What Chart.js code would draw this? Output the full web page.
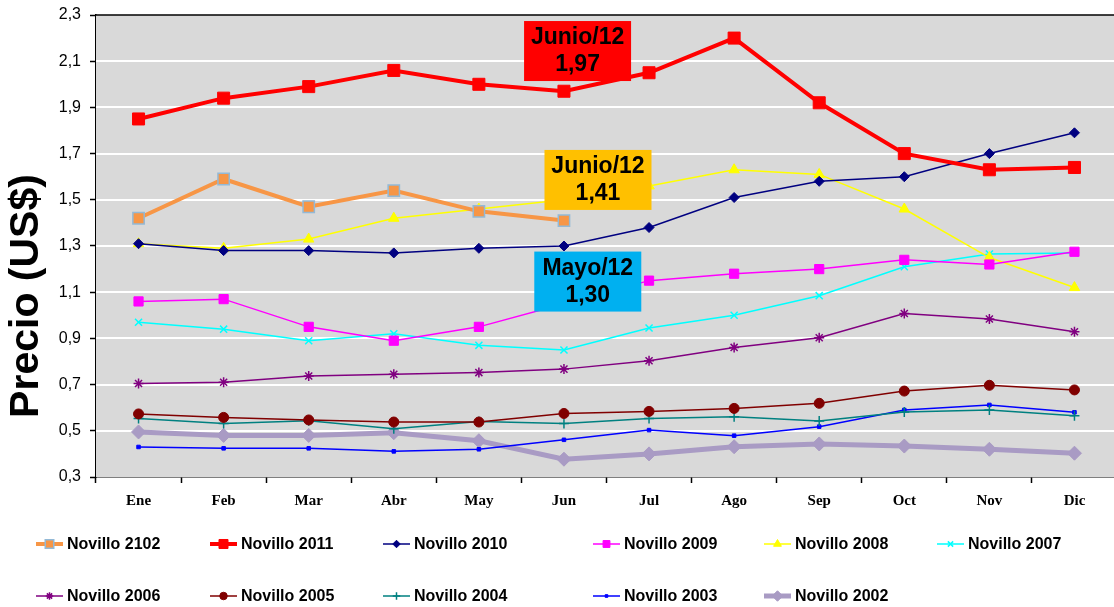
<!DOCTYPE html>
<html>
<head>
<meta charset="utf-8">
<script src="https://cdn.jsdelivr.net/npm/chart.js@4/dist/chart.umd.min.js"></script>
<style>
  html, body { margin: 0; background: #fff; overflow: hidden; }
  #wrap { width: 1117px; height: 607px; position: relative; }
</style>
</head>
<body>
<div id="wrap"><canvas id="chart"></canvas></div>
<script>
const months = ['Ene', 'Feb', 'Mar', 'Abr', 'May', 'Jun', 'Jul', 'Ago', 'Sep', 'Oct', 'Nov', 'Dic'];
const yTicks = [0.3, 0.5, 0.7, 0.9, 1.1, 1.3, 1.5, 1.7, 1.9, 2.1, 2.3];

const nov2102 = [1.42, 1.59, 1.47, 1.54, 1.45, 1.41];
const nov2011 = [1.85, 1.94, 1.99, 2.06, 2.00, 1.97, 2.05, 2.20, 1.92, 1.70, 1.63, 1.64];
const nov2010 = [1.31, 1.28, 1.28, 1.27, 1.29, 1.30, 1.38, 1.51, 1.58, 1.60, 1.70, 1.79];
const nov2009 = [1.06, 1.07, 0.95, 0.89, 0.95, 1.05, 1.15, 1.18, 1.20, 1.24, 1.22, 1.275];
const nov2008 = [1.31, 1.29, 1.33, 1.42, 1.46, 1.50, 1.56, 1.63, 1.61, 1.46, 1.25, 1.12];
const nov2007 = [0.97, 0.94, 0.89, 0.92, 0.87, 0.85, 0.945, 1.00, 1.085, 1.21, 1.265, 1.27];
const nov2006 = [0.705, 0.71, 0.737, 0.745, 0.752, 0.767, 0.803, 0.861, 0.903, 1.008, 0.984, 0.929];
const nov2005 = [0.573, 0.558, 0.547, 0.538, 0.538, 0.575, 0.584, 0.597, 0.619, 0.672, 0.697, 0.677];
const nov2004 = [0.553, 0.532, 0.544, 0.509, 0.54, 0.532, 0.553, 0.561, 0.542, 0.581, 0.59, 0.565];
const nov2003 = [0.43, 0.424, 0.424, 0.411, 0.42, 0.461, 0.503, 0.479, 0.518, 0.59, 0.612, 0.58];
const nov2002 = [0.495, 0.48, 0.48, 0.492, 0.457, 0.377, 0.40, 0.431, 0.443, 0.434, 0.42, 0.403];

// callout boxes: text lines, fill, anchor (category index, value)
const notes = [
  { lines: ['Junio/12', '1,97'], color: '#FF0000', at: 5.16, value: 2.144 },
  { lines: ['Junio/12', '1,41'], color: '#FFC000', at: 5.4, value: 1.586 },
  { lines: ['Mayo/12', '1,30'], color: '#00B0F0', at: 5.28, value: 1.146 },
];

function series(label, data, color, width, style, radius, extra) {
  return Object.assign({
    label, data,
    borderColor: color,
    backgroundColor: color,
    borderWidth: width,
    pointStyle: style,
    pointRadius: radius,
    pointHoverRadius: radius,
    pointBackgroundColor: color,
    pointBorderColor: color,
    pointBorderWidth: 1,
    tension: 0,
  }, extra || {});
}

const datasets = [
  series('Novillo 2102', nov2102, '#F79646', 4, 'rect', 8, { pointBorderColor: '#93B9D6', pointBorderWidth: 1.5 }),
  series('Novillo 2011', nov2011, '#FF0000', 4, 'rect', 8.5),
  series('Novillo 2010', nov2010, '#000080', 1.5, 'rectRot', 5),
  series('Novillo 2009', nov2009, '#FF00FF', 1.5, 'rect', 6.5),
  series('Novillo 2008', nov2008, '#FFFF00', 1.5, 'triangle', 6),
  series('Novillo 2007', nov2007, '#00FFFF', 1.5, 'crossRot', 5, { pointBorderWidth: 1.5 }),
  series('Novillo 2006', nov2006, '#800080', 1.5, 'star', 5, { pointBorderWidth: 1.5 }),
  series('Novillo 2005', nov2005, '#800000', 1.5, 'circle', 5),
  series('Novillo 2004', nov2004, '#008080', 1.5, 'cross', 5, { pointBorderWidth: 1.5 }),
  series('Novillo 2003', nov2003, '#0000FF', 1.5, 'rect', 2.5),
  series('Novillo 2002', nov2002, '#A99BC4', 5, 'rectRot', 7),
];

const decorPlugin = {
  id: 'decor',
  beforeDatasetsDraw(chart) {
    const { ctx, chartArea: a } = chart;
    ctx.save();
    ctx.fillStyle = '#D9D9D9';
    ctx.fillRect(a.left, a.top, a.right - a.left, a.bottom - a.top);
    // white grid lines
    const y = chart.scales.y;
    ctx.strokeStyle = '#FFFFFF';
    ctx.lineWidth = 2;
    yTicks.slice(1, -1).forEach(v => {
      const py = Math.round(y.getPixelForValue(v));
      ctx.beginPath();
      ctx.moveTo(a.left, py);
      ctx.lineTo(a.right, py);
      ctx.stroke();
    });
    ctx.restore();
  },
  afterDatasetsDraw(chart) {
    const { ctx, chartArea: a } = chart;
    const x = chart.scales.x, y = chart.scales.y;
    ctx.save();
    // top border
    ctx.strokeStyle = '#000';
    ctx.lineWidth = 1.5;
    ctx.beginPath();
    ctx.moveTo(a.left, a.top);
    ctx.lineTo(a.right, a.top);
    ctx.stroke();
    // callouts
    notes.forEach(n => {
      const cx = x.getPixelForValue(n.at);
      const cy = y.getPixelForValue(n.value);
      const w = 107, h = 60;
      ctx.fillStyle = n.color;
      ctx.fillRect(cx - w / 2, cy - h / 2, w, h);
      ctx.fillStyle = '#000';
      ctx.font = 'bold 23px "Liberation Sans", Arial, sans-serif';
      ctx.textAlign = 'center';
      ctx.textBaseline = 'middle';
      ctx.fillText(n.lines[0], cx, cy - 13);
      ctx.fillText(n.lines[1], cx, cy + 14);
    });
    ctx.restore();
  },
  afterDraw(chart) {
    const { ctx } = chart;
    ctx.save();
    // y title
    ctx.translate(27, 296);
    ctx.rotate(-Math.PI / 2);
    ctx.fillStyle = '#000';
    ctx.font = 'bold 41px "Liberation Sans", Arial, sans-serif';
    ctx.textAlign = 'center';
    ctx.textBaseline = 'middle';
    ctx.fillText('Precio (US$)', 0, 0);
    ctx.restore();

    // legend
    const cols = [36, 210, 383, 593, 764, 937];
    const rows = [544, 596];
    chart.data.datasets.forEach((ds, i) => {
      const lx = cols[i % 6], ly = rows[Math.floor(i / 6)];
      ctx.save();
      ctx.strokeStyle = ds.borderColor;
      ctx.lineWidth = ds.borderWidth;
      ctx.beginPath();
      ctx.moveTo(lx, ly);
      ctx.lineTo(lx + 27, ly);
      ctx.stroke();
      ctx.fillStyle = ds.pointBackgroundColor;
      ctx.strokeStyle = ds.pointBorderColor;
      ctx.lineWidth = ds.pointBorderWidth;
      Chart.helpers.drawPoint(ctx, {
        pointStyle: ds.pointStyle,
        radius: ds.pointRadius * 0.75,
        borderWidth: ds.pointBorderWidth,
        rotation: 0,
      }, lx + 13.5, ly);
      ctx.fillStyle = '#000';
      ctx.font = 'bold 16px "Liberation Sans", Arial, sans-serif';
      ctx.textAlign = 'left';
      ctx.textBaseline = 'middle';
      ctx.fillText(ds.label, lx + 31, ly + 1);
      ctx.restore();
    });
  },
};

new Chart(document.getElementById('chart'), {
  type: 'line',
  data: { labels: months, datasets },
  plugins: [decorPlugin],
  options: {
    responsive: true,
    maintainAspectRatio: false,
    animation: false,
    layout: { autoPadding: false, padding: { top: 15, right: 0, bottom: 0, left: 0 } },
    plugins: {
      legend: { display: false },
      tooltip: { enabled: false },
    },
    scales: {
      x: {
        offset: true,
        grid: { offset: true, drawOnChartArea: false, drawTicks: true, tickLength: 6, color: '#000', tickWidth: 1.5 },
        border: { color: '#000', width: 1.5 },
        ticks: {
          color: '#000',
          padding: 9,
          maxRotation: 0,
          font: { family: '"Liberation Serif", "Times New Roman", serif', size: 15, weight: 'bold' },
        },
        afterFit: s => { s.height = 130; s.paddingLeft = 0; s.paddingRight = 0; },
      },
      y: {
        min: 0.3,
        max: 2.3,
        afterBuildTicks: s => { s.ticks = yTicks.map(v => ({ value: v })); },
        grid: { drawOnChartArea: false, drawTicks: true, tickLength: 6, color: '#000', tickWidth: 1.5 },
        border: { color: '#000', width: 1.5 },
        ticks: {
          color: '#000',
          padding: 9,
          font: { family: '"Liberation Sans", Arial, sans-serif', size: 16 },
          callback: v => v.toFixed(1).replace('.', ','),
        },
        afterFit: s => { s.width = 96; s.paddingTop = 0; s.paddingBottom = 0; },
      },
    },
  },
});
</script>
</body>
</html>
